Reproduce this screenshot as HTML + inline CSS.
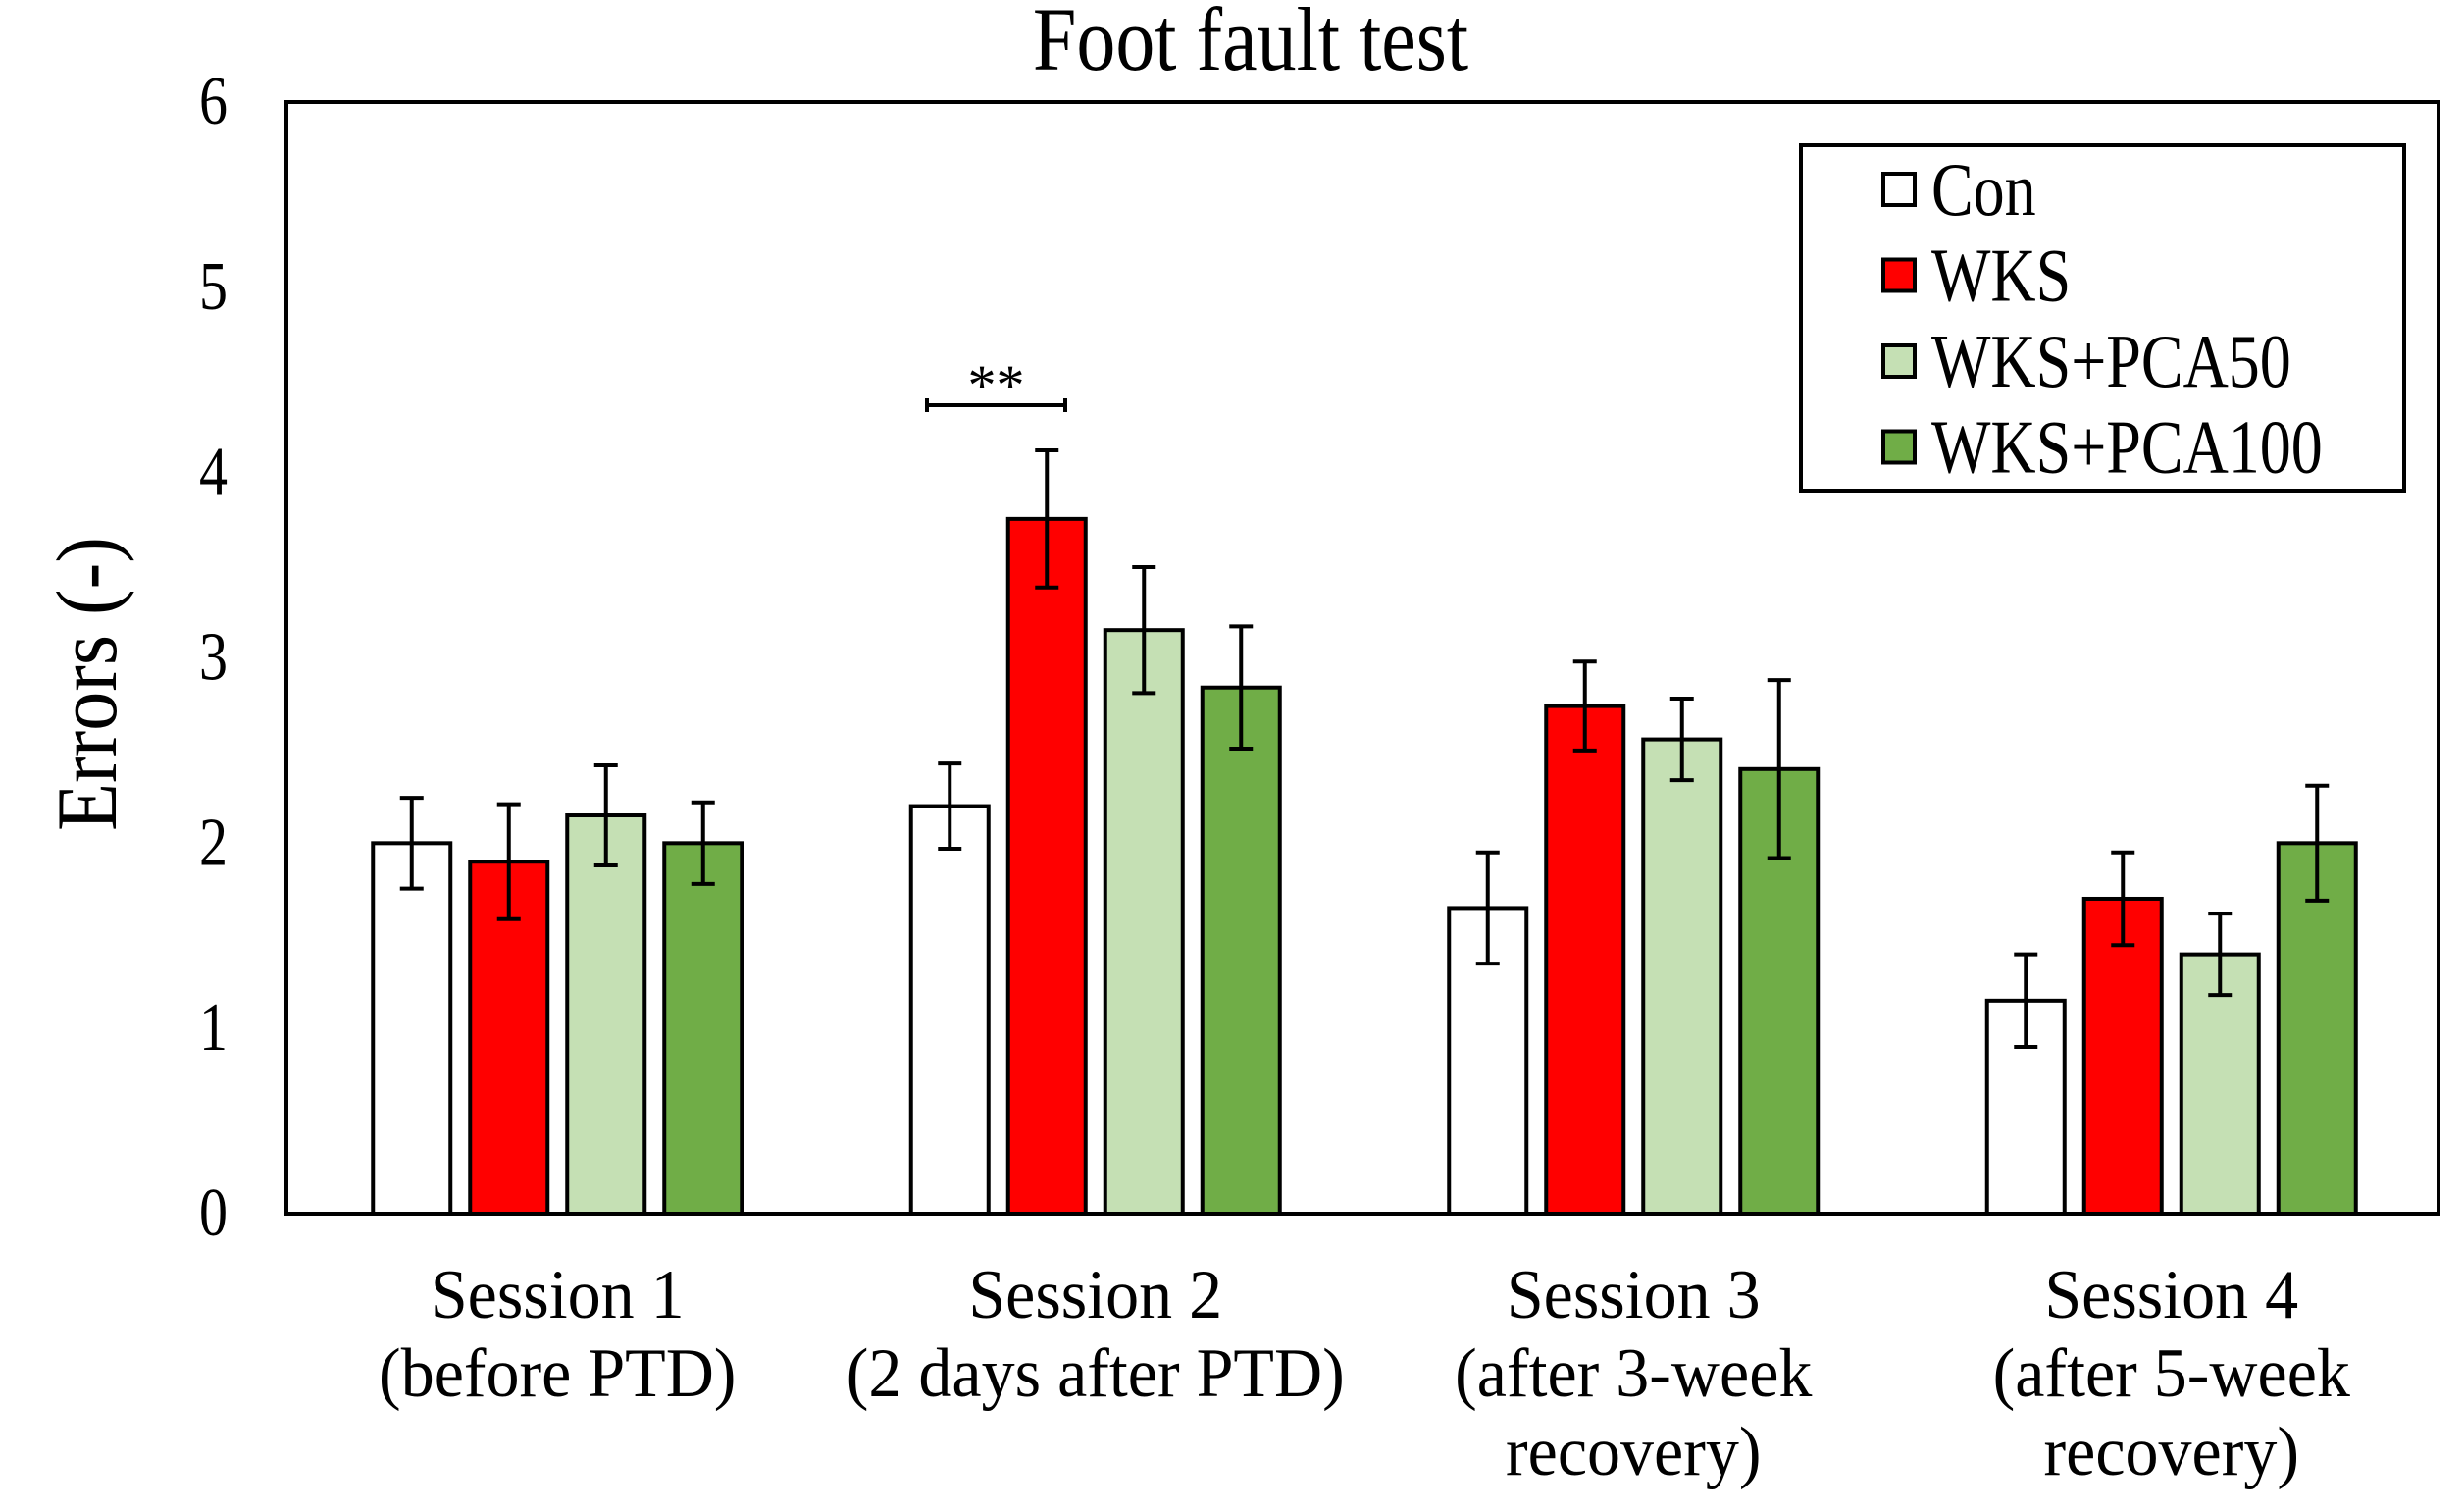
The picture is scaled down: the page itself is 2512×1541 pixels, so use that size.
<!DOCTYPE html>
<html><head><meta charset="utf-8"><style>
html,body{margin:0;padding:0;background:#fff;}
svg{display:block;font-family:"Liberation Serif",serif;}
</style></head><body>
<svg id="chart" width="2512" height="1541" viewBox="0 0 2512 1541" xmlns="http://www.w3.org/2000/svg">
<text transform="translate(1275,71) scale(1,1.15)" font-size="80" text-anchor="middle">Foot fault test</text>
<text transform="translate(118,697) rotate(-90) scale(1,1.1)" font-size="80" text-anchor="middle">Errors (-)</text>
<g id="plot"></g>
</svg>
<script>
const categories = [["Session 1","(before PTD)"],["Session 2","(2 days after PTD)"],["Session 3","(after 3-week","recovery)"],["Session 4","(after 5-week","recovery)"]];
const seriesNames = ["Con","WKS","WKS+PCA50","WKS+PCA100"];
const seriesColors = ["#ffffff","#ff0000","#c5e0b4","#70ad47"];
const conValues = [2.0, 2.2, 1.65, 1.15];
const wksValues = [1.9, 3.75, 2.74, 1.7];
const pca50Values = [2.15, 3.15, 2.56, 1.4];
const pca100Values = [2.0, 2.84, 2.4, 2.0];
const conErr = [0.245, 0.23, 0.3, 0.25];
const wksErr = [0.31, 0.37, 0.24, 0.25];
const pca50Err = [0.27, 0.34, 0.22, 0.22];
const pca100Err = [0.22, 0.33, 0.48, 0.31];
const yTicks = [0,1,2,3,4,5,6];

const values = [conValues, wksValues, pca50Values, pca100Values];
const errs = [conErr, wksErr, pca50Err, pca100Err];
const NS = "http://www.w3.org/2000/svg";
const L = 292, R = 2486, T = 104, B = 1237, yMax = 6;
const band = (R - L) / categories.length;
const barW = 79, barStep = 99;
function y(v){ return B - v / yMax * (B - T); }
function xBar(ci, si){ return L + band * ci + band / 2 + 2 - 2 * barStep + si * barStep + (barStep - barW) / 2; }
const g = document.getElementById('plot');
function mk(tag, attrs, parent){ const e = document.createElementNS(NS, tag); for (const k in attrs) e.setAttribute(k, attrs[k]); (parent || g).appendChild(e); return e; }

yTicks.forEach(t => {
  const tx = mk('text', {transform: `translate(232,${y(t) + 22}) scale(1,1.2)`, 'font-size': 58, 'text-anchor': 'end'});
  
  
  tx.textContent = t;
});

categories.forEach((lines, ci) => {
  values.forEach((vals, si) => {
    const x = xBar(ci, si), v = vals[ci], e = errs[si][ci];
    const r = mk('rect', {x: x, y: y(v), width: barW, height: B - y(v), fill: seriesColors[si], stroke: '#000', 'stroke-width': 4});
    
    
    const cx = x + barW / 2;
    const eb = mk('path', {d: `M${cx},${y(v + e)}V${y(v - e)}M${cx - 12},${y(v + e)}H${cx + 12}M${cx - 12},${y(v - e)}H${cx + 12}`, stroke: '#000', 'stroke-width': 4, fill: 'none'});
    
    
  });
  const cxc = L + band * ci + band / 2 + 2;
  lines.forEach((ln, li) => {
    const tx = mk('text', {transform: `translate(${cxc},${1343 + li * 80}) scale(1,1.05)`, 'font-size': 68, 'text-anchor': 'middle'});
    
    
    tx.textContent = ln;
  });
});

const axis = mk('path', {d: `M${L},${T}H${R}V${B}H${L}Z`, fill: 'none', stroke: '#000', 'stroke-width': 4});



// significance bracket between Con and WKS in Session 2
const bx1 = 945, bx2 = 1086, by = 413;
const br = mk('path', {d: `M${bx1},${by}H${bx2}M${bx1},${by - 7}V${by + 7}M${bx2},${by - 7}V${by + 7}`, stroke: '#000', 'stroke-width': 4, fill: 'none'});


const st = mk('text', {x: (bx1 + bx2) / 2, y: 412, 'font-size': 58, 'text-anchor': 'middle'});


st.textContent = '**';

// legend
const lg = mk('g', {});


const lb = mk('rect', {x: 1836, y: 148, width: 615, height: 352, fill: '#fff', stroke: '#000', 'stroke-width': 4}, lg);


seriesNames.forEach((n, i) => {
  const cy = 193 + i * 87.5;
  const sw = mk('rect', {x: 1920, y: cy - 16, width: 32, height: 32, fill: seriesColors[i], stroke: '#000', 'stroke-width': 4}, lg);
  
  
  const tx = mk('text', {transform: `translate(1969,${cy + 26}) scale(1,1.2)`, 'font-size': 64}, lg);
  
  
  tx.textContent = n;
});
</script>
</body></html>
